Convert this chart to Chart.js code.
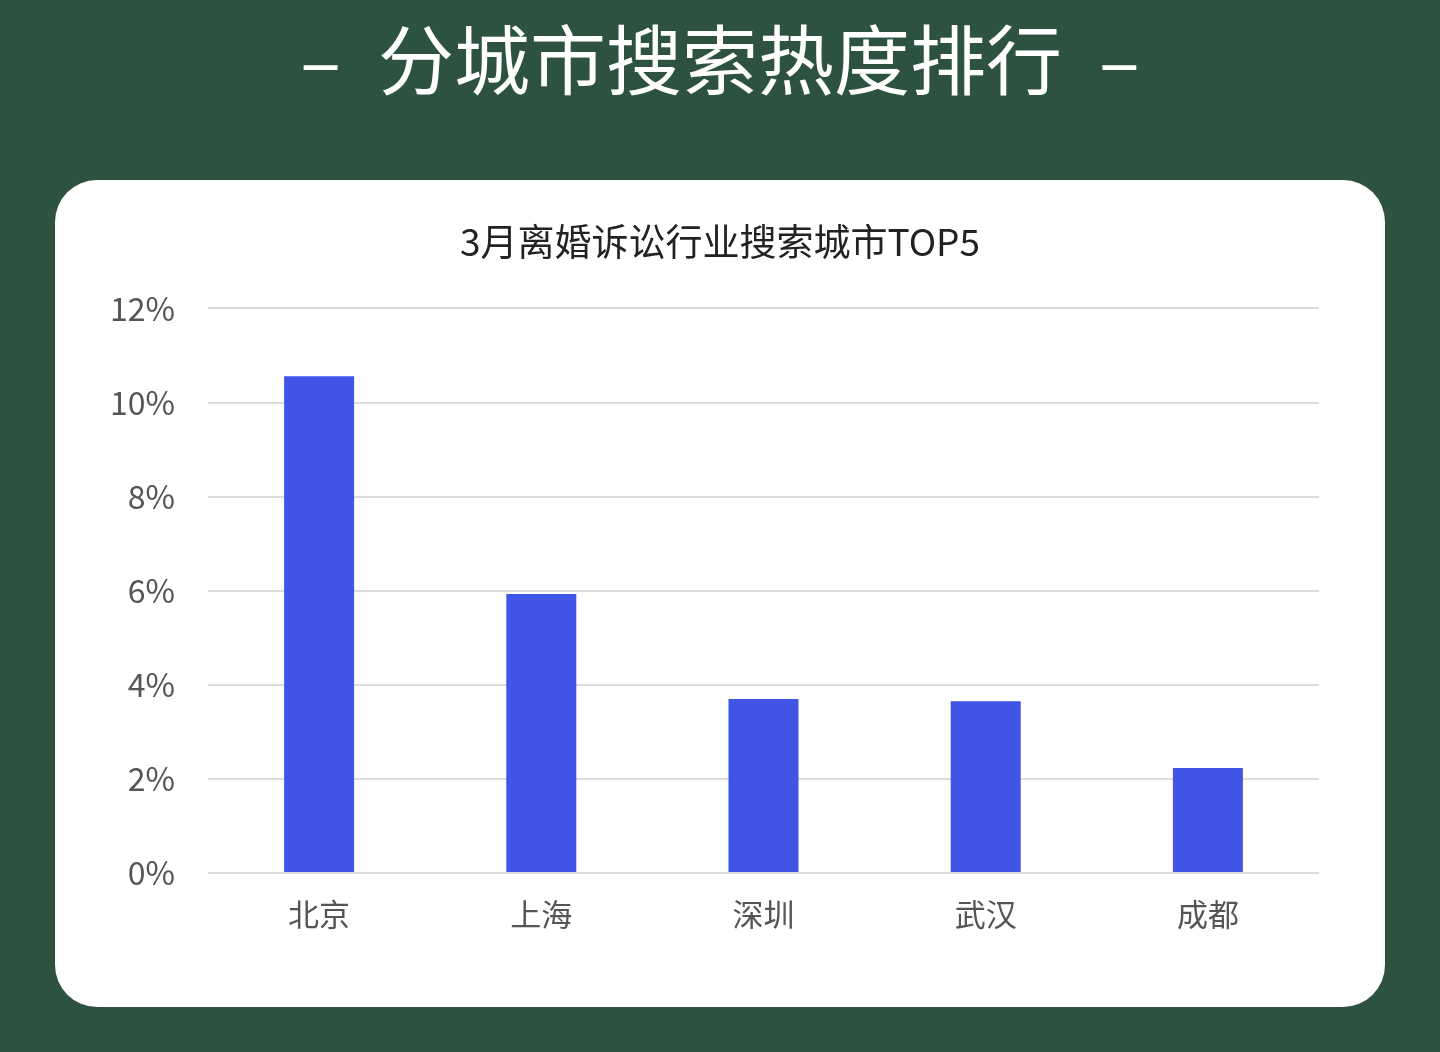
<!DOCTYPE html>
<html>
<head>
<meta charset="utf-8">
<script src="https://cdn.jsdelivr.net/npm/chart.js@4.4.1/dist/chart.umd.min.js"></script>
<style>
  html, body { margin: 0; padding: 0; }
  body { width: 1440px; height: 1052px; background: #2d5240; position: relative; overflow: hidden;
         font-family: "Noto Sans CJK SC", "Noto Sans", sans-serif; }
  #head { position: absolute; left: 0; top: 6px; width: 1440px; text-align: center; color: #fff;
          font-size: 76px; line-height: 100px; letter-spacing: 0px; white-space: pre; }
  #head .g { display: inline-block; width: 37px; }
  #card { position: absolute; left: 55px; top: 180px; width: 1330px; height: 827px; background: #fff;
          border-radius: 42px; }
  #c { position: absolute; left: 0; top: 0; }
</style>
</head>
<body>
<div id="head">–<span class="g"></span>分城市搜索热度排行<span class="g"></span>–</div>
<div id="card"><canvas id="c" width="1330" height="827"></canvas></div>
<script>
const chartTitle = "3月离婚诉讼行业搜索城市TOP5";
const categories = ["北京", "上海", "深圳", "武汉", "成都"];
const values = [10.56, 5.93, 3.70, 3.65, 2.23];
const tickValues = [0, 2, 4, 6, 8, 10, 12];

const centerTitle = {
  id: 'centerTitle',
  afterLayout(chart) {
    const t = chart.titleBlock;
    if (t) { t.left = 0; t.right = chart.width; }
  }
};

const ctx = document.getElementById('c').getContext('2d');
new Chart(ctx, {
  type: 'bar',
  data: {
    labels: categories,
    datasets: [{
      data: values,
      backgroundColor: '#4055e6',
      borderWidth: 0,
      barPercentage: 0.63,
      categoryPercentage: 0.5
    }]
  },
  plugins: [centerTitle],
  options: {
    responsive: false,
    animation: false,
    devicePixelRatio: 1,
    layout: { padding: { top: 40, right: 66, bottom: 0, left: 0 } },
    plugins: {
      legend: { display: false },
      tooltip: { enabled: false },
      title: {
        display: true,
        text: chartTitle,
        color: '#222',
        font: { family: '"Noto Sans CJK SC", "Noto Sans", sans-serif', size: 37, weight: 'normal' },
        padding: { top: 0, bottom: 44 }
      }
    },
    scales: {
      x: {
        grid: { display: false },
        border: { display: false },
        ticks: {
          color: '#555',
          padding: 15,
          font: { family: '"Noto Sans CJK SC", sans-serif', size: 31 }
        },
        afterFit: (s) => { s.height = 134; }
      },
      y: {
        min: 0,
        max: 12,
        afterBuildTicks: (s) => { s.ticks = tickValues.map(v => ({ value: v })); },
        grid: { color: '#dcdcdc', lineWidth: 2, drawTicks: false },
        border: { display: false },
        ticks: {
          color: '#555',
          padding: 33,
          font: { family: '"Noto Sans CJK SC", "Noto Sans", sans-serif', size: 32 },
          callback: (v) => v + '%'
        },
        afterFit: (s) => { s.width = 153; }
      }
    }
  }
});
</script>
</body>
</html>
